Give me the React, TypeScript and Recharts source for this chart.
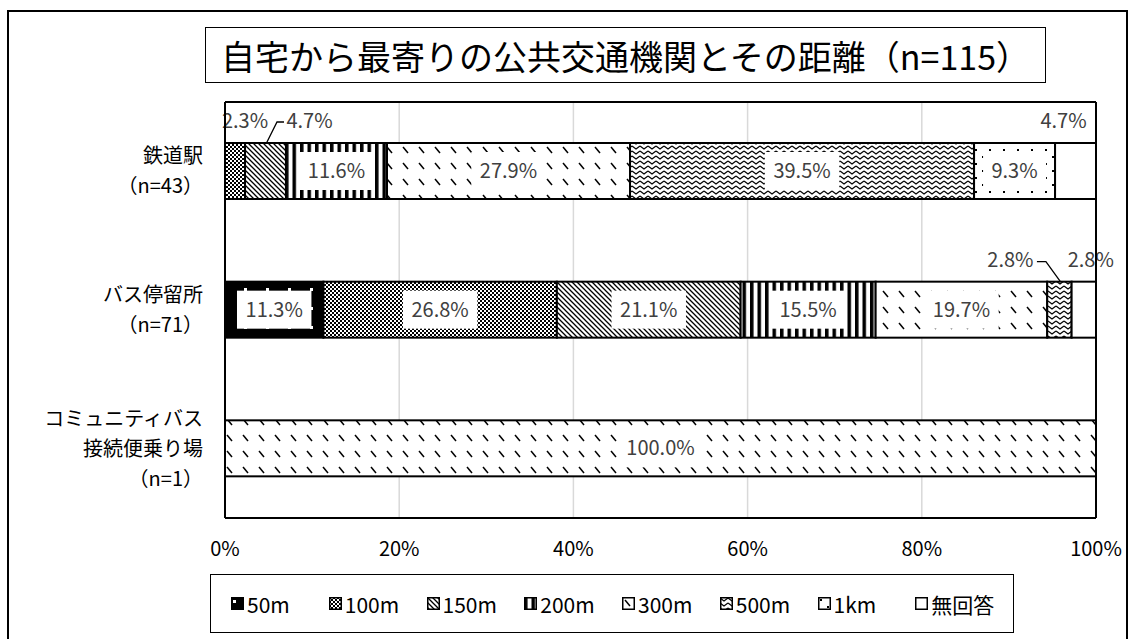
import React from "react";
import { BarChart, Bar, XAxis, YAxis, CartesianGrid } from "recharts";

const FONT = "'Noto Sans CJK JP', 'Noto Sans', sans-serif";
const LABEL_GRAY = "#404040";

const categories = [
  "鉄道駅\n（n=43）",
  "バス停留所\n（n=71）",
  "コミュニティバス\n接続便乗り場\n（n=1）",
];
const seriesNames = ["50m", "100m", "150m", "200m", "300m", "500m", "1km", "無回答"];
const seriesKeys = ["m50", "m100", "m150", "m200", "m300", "m500", "km1", "na"];

// share (%) per category, same order as categories
const m50 = [0, 11.3, 0];
const m100 = [2.3, 26.8, 0];
const m150 = [4.7, 21.1, 0];
const m200 = [11.6, 15.5, 0];
const m300 = [27.9, 19.7, 100];
const m500 = [39.5, 2.8, 0];
const km1 = [9.3, 0, 0];
const noAnswer = [4.7, 2.8, 0];
const seriesValues = [m50, m100, m150, m200, m300, m500, km1, noAnswer];

const xTicks = [0, 20, 40, 60, 80, 100];

const data = categories.map((name, i) => {
  const row: Record<string, string | number> = { name };
  seriesKeys.forEach((k, s) => {
    row[k] = seriesValues[s][i];
  });
  return row;
});

// labels that sit above the bar (small segments)
type Callout = { dx: number; leader?: "left" | "right" };
const callouts: Record<string, Callout> = {
  "m100-0": { dx: 10 },
  "m150-0": { dx: 44, leader: "left" },
  "na-0": { dx: -12 },
  "m500-1": { dx: -49, leader: "right" },
  "na-1": { dx: 7 },
};

const charW: Record<string, number> = { ".": 0.268, "%": 0.838 };
const textWidth = (s: string, size: number) =>
  s.split("").reduce((w, c) => w + (charW[c] ?? 0.572), 0) * size;

function Patterns() {
  return (
    <defs>
      <pattern id="pat-m50" width={22} height={19} patternUnits="userSpaceOnUse">
        <rect width={22} height={19} fill="#000" />
        <rect x={2} y={3} width={3} height={3} fill="#fff" />
      </pattern>
      <pattern id="pat-m100" width={4} height={4} patternUnits="userSpaceOnUse">
        <rect width={4} height={4} fill="#fff" />
        <rect width={2} height={2} fill="#000" />
        <rect x={2} y={2} width={2} height={2} fill="#000" />
      </pattern>
      <pattern id="pat-m150" width={5} height={5} patternUnits="userSpaceOnUse">
        <rect width={5} height={5} fill="#fff" />
        <path d="M-1,-1 L6,6 M-1,4 L1,6 M4,-1 L6,1" stroke="#000" strokeWidth={1.3} />
      </pattern>
      <pattern id="pat-m200" width={7.5} height={8} patternUnits="userSpaceOnUse">
        <rect width={7.5} height={8} fill="#fff" />
        <rect width={3.5} height={8} fill="#000" />
      </pattern>
      <pattern id="pat-m300" width={16} height={16} patternUnits="userSpaceOnUse">
        <rect width={16} height={16} fill="#fff" />
        <path d="M3,3 L8,9" stroke="#000" strokeWidth={1.5} />
      </pattern>
      <pattern id="pat-m500" width={8} height={5} patternUnits="userSpaceOnUse">
        <rect width={8} height={5} fill="#fff" />
        <path d="M0,1 L4,4 L8,1" stroke="#000" strokeWidth={1.2} fill="none" />
      </pattern>
      <pattern id="pat-km1" width={14} height={14} patternUnits="userSpaceOnUse">
        <rect width={14} height={14} fill="#fff" />
        <rect x={2} y={2} width={2} height={2} fill="#000" />
        <rect x={9} y={9} width={2} height={2} fill="#000" />
      </pattern>
      <pattern id="pat-na" width={4} height={4} patternUnits="userSpaceOnUse">
        <rect width={4} height={4} fill="#fff" />
      </pattern>
    </defs>
  );
}

function SegmentLabel({ x, y, width, height, value, calloutKey }: any) {
  const text = `${value.toFixed(1)}%`;
  const size = 20;
  const tw = textWidth(text, size);
  const cx = x + width / 2;
  const c = callouts[calloutKey];
  if (!c) {
    const cy = y + height / 2;
    return (
      <g>
        <rect x={cx - tw / 2 - 9} y={cy - 19} width={tw + 18} height={38} fill="#fff" />
        <text x={cx} y={cy} dy="0.35em" textAnchor="middle" fontSize={size} fontFamily={FONT} fill={LABEL_GRAY}>
          {text}
        </text>
      </g>
    );
  }
  const lx = cx + c.dx;
  const ly = y - 22;
  let leader = null;
  if (c.leader === "left") {
    const sx = lx - tw / 2 - 3;
    leader = <polyline points={`${sx},${ly + 1} ${sx - 7},${ly + 1} ${cx + 1},${y}`} fill="none" stroke="#000" strokeWidth={1.3} />;
  } else if (c.leader === "right") {
    const sx = lx + tw / 2 + 4;
    leader = <polyline points={`${sx},${ly + 2} ${sx + 9},${ly + 2} ${cx + 1},${y}`} fill="none" stroke="#000" strokeWidth={1.3} />;
  }
  return (
    <g>
      {leader}
      <text x={lx} y={ly} dy="0.35em" textAnchor="middle" fontSize={size} fontFamily={FONT} fill={LABEL_GRAY}>
        {text}
      </text>
    </g>
  );
}

// one stacked segment: outlined patterned rect plus its value label
function Segment(props: any) {
  const { x, y, width, height, fill, dataKey, index, payload } = props;
  if (!width || !height) return null;
  const rx = Math.min(x, x + width);
  const ry = Math.min(y, y + height);
  const w = Math.abs(width);
  const h = Math.abs(height);
  const value = Number(payload ? payload[dataKey] : 0);
  return (
    <g>
      <rect x={rx} y={ry} width={w} height={h} fill={fill} stroke="#000" strokeWidth={2} />
      {value ? (
        <SegmentLabel x={rx} y={ry} width={w} height={h} value={value} calloutKey={`${dataKey}-${index}`} />
      ) : null}
    </g>
  );
}

function CategoryTick(props: any) {
  const { x, y, payload } = props;
  const lines = String(payload.value).split("\n");
  const tx = x - 14;
  return (
    <text textAnchor="end" fontSize={20} fontFamily={FONT} fill="#000">
      {lines.map((l, i) => (
        <tspan key={i} x={tx} y={y + (i - (lines.length - 1) / 2) * 30} dy="0.35em">
          {l}
        </tspan>
      ))}
    </text>
  );
}

function PercentTick(props: any) {
  const { x, y, payload } = props;
  return (
    <text x={x} y={y + 23} dy="0.35em" textAnchor="middle" fontSize={20} fontFamily={FONT} fill="#000">
      {`${payload.value}%`}
    </text>
  );
}

function LegendBox() {
  return (
    <div
      style={{
        position: "absolute",
        left: 210,
        top: 574,
        width: 804,
        height: 59,
        border: "1.5px solid #000",
        boxSizing: "border-box",
        background: "#fff",
        display: "flex",
        alignItems: "center",
        paddingLeft: 20,
      }}
    >
      {seriesNames.map((n, i) => (
        <div key={n} style={{ width: 98, display: "flex", alignItems: "center", fontSize: 21, color: "#000" }}>
          <svg width={13} height={13} style={{ marginRight: 3 }}>
            <rect x={0.75} y={0.75} width={11.5} height={11.5} fill={`url(#pat-${seriesKeys[i]})`} stroke="#000" strokeWidth={1.5} />
          </svg>
          <span>{n}</span>
        </div>
      ))}
    </div>
  );
}

const frameLine = { stroke: "#000", strokeWidth: 2 };

export default function App() {
  return (
    <div
      style={{
        position: "absolute",
        left: 0,
        top: 0,
        width: 1135,
        height: 639,
        overflow: "hidden",
        background: "#fff",
        fontFamily: FONT,
      }}
    >
      <svg width={0} height={0} style={{ position: "absolute" }}>
        <Patterns />
      </svg>
      <div
        style={{
          position: "absolute",
          left: 7,
          top: 10,
          width: 1121,
          height: 640,
          border: "2px solid #000",
          boxSizing: "border-box",
        }}
      />
      <div style={{ position: "absolute", left: 0, top: 0 }}>
        <BarChart
          width={1135}
          height={639}
          data={data}
          layout="vertical"
          margin={{ top: 101, right: 38, bottom: 81, left: 0 }}
        >
          <CartesianGrid horizontal={false} stroke="#d9d9d9" strokeWidth={1.5} />
          <XAxis
            type="number"
            domain={[0, 100]}
            ticks={xTicks}
            interval={0}
            tick={<PercentTick />}
            axisLine={frameLine}
            tickLine={false}
            height={40}
          />
          <XAxis
            xAxisId="top"
            orientation="top"
            type="number"
            domain={[0, 100]}
            tick={false}
            tickLine={false}
            axisLine={frameLine}
            height={1}
          />
          <YAxis
            type="category"
            dataKey="name"
            width={225}
            tick={<CategoryTick />}
            axisLine={frameLine}
            tickLine={false}
          />
          <YAxis
            yAxisId="right"
            orientation="right"
            type="category"
            dataKey="name"
            tick={false}
            tickLine={false}
            axisLine={frameLine}
            width={1}
          />
          {seriesKeys.map((k, i) => (
            <Bar
              key={k}
              dataKey={k}
              name={seriesNames[i]}
              stackId="a"
              barSize={56}
              fill={`url(#pat-${k})`}
              shape={<Segment />}
              isAnimationActive={false}
            />
          ))}
        </BarChart>
      </div>
      <div
        style={{
          position: "absolute",
          left: 205,
          top: 27,
          width: 841,
          height: 56,
          border: "1.5px solid #000",
          boxSizing: "border-box",
          background: "#fff",
          display: "flex",
          alignItems: "center",
          justifyContent: "center",
          fontSize: 34,
          color: "#000",
          whiteSpace: "nowrap",
        }}
      >
        自宅から最寄りの公共交通機関とその距離（n=115）
      </div>
      <LegendBox />
    </div>
  );
}
